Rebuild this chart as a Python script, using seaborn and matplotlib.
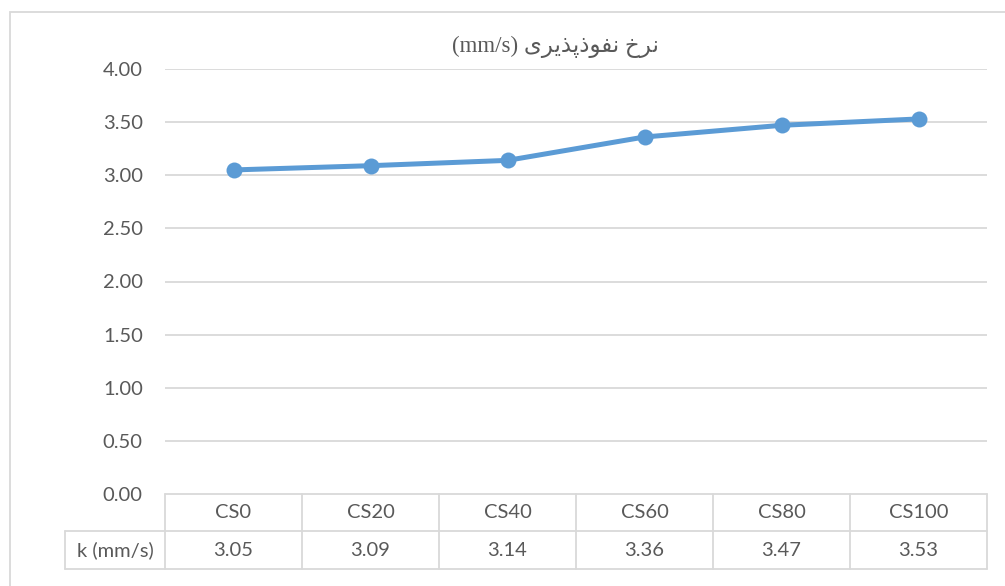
import matplotlib
matplotlib.use("Agg")
import matplotlib.pyplot as plt
import seaborn as sns
import pandas as pd
from matplotlib.patches import Rectangle

# data
categories = ["CS0", "CS20", "CS40", "CS60", "CS80", "CS100"]
k_values = [3.05, 3.09, 3.14, 3.36, 3.47, 3.53]
row_label = "k (mm/s)"
title_fa = "نرخ نفوذپذیری"
title_unit = "(mm/s)"
yticks = [0.0, 0.5, 1.0, 1.5, 2.0, 2.5, 3.0, 3.5, 4.0]

# minimal persian shaping (matplotlib does no arabic shaping / bidi)
FORMS = {  # isolated, final, initial, medial
    "ن": ("\uFEE5", "\uFEE6", "\uFEE7", "\uFEE8"),
    "ر": ("\uFEAD", "\uFEAE", None, None),
    "خ": ("\uFEA5", "\uFEA6", "\uFEA7", "\uFEA8"),
    "ف": ("\uFED1", "\uFED2", "\uFED3", "\uFED4"),
    "و": ("\uFEED", "\uFEEE", None, None),
    "ذ": ("\uFEAB", "\uFEAC", None, None),
    "پ": ("\uFB56", "\uFB57", "\uFB58", "\uFB59"),
    "ی": ("\uFBFC", "\uFBFD", "\uFBFE", "\uFBFF"),
}

def shape(word):
    out = []
    for i, ch in enumerate(word):
        if ch not in FORMS:
            out.append(ch)
            continue
        prev = word[i - 1] if i > 0 else None
        nxt = word[i + 1] if i + 1 < len(word) else None
        join_prev = prev in FORMS and FORMS[prev][2] is not None
        join_next = nxt in FORMS and FORMS[ch][2] is not None
        f = FORMS[ch]
        if join_prev and join_next:
            out.append(f[3])
        elif join_prev:
            out.append(f[1])
        elif join_next:
            out.append(f[2])
        else:
            out.append(f[0])
    return "".join(out)

def rtl(text):
    return " ".join(shape(w)[::-1] for w in text.split(" ")[::-1])

df = pd.DataFrame({"cat": categories, "k": k_values})
df["pos"] = range(len(df))

sns.set_style("white")
plt.rcParams["font.family"] = ["Lato", "DejaVu Sans"]

W, H = 1005, 586
fig = plt.figure(figsize=(W / 100, H / 100), dpi=100)

# px helpers
def fx(px):
    return px / W

def fy(py):
    return 1 - py / H

left, right, top, bottom = 165, 987, 69, 494
ax = fig.add_axes([fx(left), fy(bottom), fx(right - left), fy(top) - fy(bottom)])

txt = "#595959"
grid = "#D9D9D9"
blue = "#5B9BD5"
fs = 14.5

sns.lineplot(data=df, x="pos", y="k", ax=ax, color=blue, linewidth=3.6,
             marker="o", markersize=11.5, markeredgewidth=0, zorder=3)

ax.set_xlim(-0.5, len(categories) - 0.5)
ax.set_ylim(0, 4)
ax.set_yticks(yticks)
ax.set_yticklabels([f"{v:.2f}" for v in yticks], fontsize=fs, color=txt)
ax.tick_params(axis="y", length=0, pad=16)
ax.set_xticks([])
ax.set_xlabel("")
ax.set_ylabel("")
for s in ax.spines.values():
    s.set_visible(False)
for v in yticks[1:]:
    ax.axhline(v, color=grid, lw=1.3, zorder=1)

# data table below plot area
n = len(categories)
colw = (right - left) / n
r1, r2, r3 = bottom, 531, 569
lab_left = 65
lc = dict(color=grid, lw=1.3)
fig.add_artist(plt.Line2D([fx(left), fx(right)], [fy(r1), fy(r1)], **lc))
fig.add_artist(plt.Line2D([fx(lab_left), fx(right)], [fy(r2), fy(r2)], **lc))
fig.add_artist(plt.Line2D([fx(lab_left), fx(right)], [fy(r3), fy(r3)], **lc))
fig.add_artist(plt.Line2D([fx(lab_left), fx(lab_left)], [fy(r2), fy(r3)], **lc))
for i in range(n + 1):
    x = left + i * colw
    fig.add_artist(plt.Line2D([fx(x), fx(x)], [fy(r1), fy(r3)], **lc))
for i, (c, v) in enumerate(zip(categories, k_values)):
    cx = left + (i + 0.5) * colw
    fig.text(fx(cx), fy((r1 + r2) / 2), c, ha="center", va="center",
             fontsize=fs, color=txt)
    fig.text(fx(cx), fy((r2 + r3) / 2), f"{v:.2f}", ha="center", va="center",
             fontsize=fs, color=txt)
fig.text(fx((lab_left + left) / 2), fy((r2 + r3) / 2), row_label, ha="center",
         va="center", fontsize=fs, color=txt)

# title
fig.text(fx(555), fy(47), title_unit + " " + rtl(title_fa), ha="center",
         va="center", fontsize=16.5, color=txt,
         family=["Liberation Serif", "DejaVu Sans"])

# chart area border
fig.add_artist(Rectangle((fx(10), fy(H + 5)), fx(W), fy(12) - fy(H + 5),
                         fill=False, edgecolor=grid, lw=1.3))

fig.savefig("out.png", dpi=100, facecolor="white")
